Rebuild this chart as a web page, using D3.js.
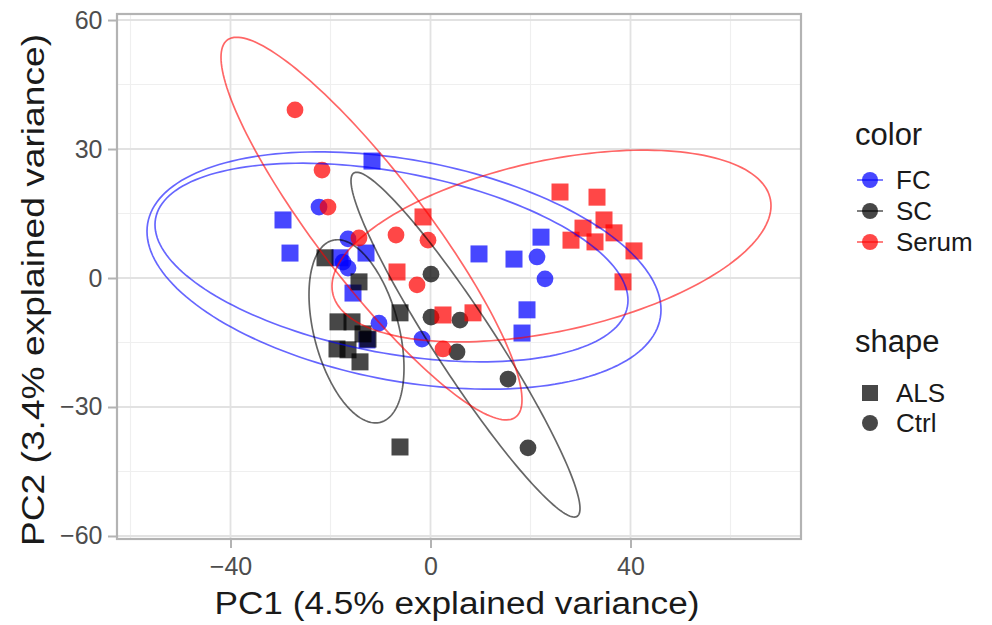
<!DOCTYPE html>
<html>
<head>
<meta charset="utf-8">
<script src="https://cdn.jsdelivr.net/npm/d3@7"></script>
<style>
  body { margin: 0; background: #fff; }
  text { font-family: "Liberation Sans", Arial, sans-serif; }
</style>
</head>
<body>
<div id="chart"></div>
<script>
// colour groups and shape groups
const groups = ["FC", "SC", "Serum"];
const groupColors = ["#0000ff", "#000000", "#ff0000"];
const shapes = ["ALS", "Ctrl"];

// PCA scores, [PC1, PC2]
const fcAls = [[-29.5, 13.5], [-28.1, 5.8], [-11.7, 27.2], [-12.9, 5.8], [-18.1, 4.7], [-15.5, -3.5],
               [-12.7, -14.4], [9.7, 5.6], [16.7, 4.4], [22.1, 9.5], [19.3, -7.4], [18.3, -12.8]];
const fcCtrl = [[-22.3, 16.5], [-16.5, 9.1], [-17.5, 3.7], [-16.5, 2.3], [-10.3, -10.5], [-1.7, -14.2],
                [21.3, 4.9], [22.9, -0.2]];
const scAls = [[-21.1, 4.7], [-14.3, -0.9], [-6.1, -8.1], [-18.5, -10.2], [-15.7, -10.2], [-13.5, -13.0],
               [-12.5, -14.2], [-18.7, -16.5], [-16.5, -16.7], [-14.1, -19.5], [-6.1, -39.3]];
const scCtrl = [[0.1, 0.9], [0.1, -9.1], [5.9, -9.8], [5.3, -17.2], [15.5, -23.5], [19.5, -39.5]];
const serumAls = [[-6.7, 1.4], [-1.5, 14.2], [2.5, -8.6], [8.5, -8.1], [25.9, 20.0], [33.3, 18.8],
                  [34.7, 13.5], [30.5, 11.6], [36.7, 10.5], [28.1, 8.8], [32.9, 8.4], [40.7, 6.3], [38.5, -0.9]];
const serumCtrl = [[-27.1, 39.1], [-21.7, 25.1], [-20.5, 16.5], [-14.3, 9.3], [-6.9, 10.0], [-0.5, 8.8],
                   [-2.7, -1.6], [2.5, -16.5]];

// 95% ellipses: centre, half-extent on each axis, and correlation term
const ellipses = [
  {group: "FC", cx: -5.3, cy: 1.74, rx: 51.4, ry: 27.6, rho: -0.33},
  {group: "FC", cx: -7.8, cy: 3.6, rx: 47.3, ry: 23.1, rho: -0.38},
  {group: "SC", cx: -14.8, cy: -12.4, rx: 9.5, ry: 21.3, rho: -0.4},
  {group: "SC", cx: 7.0, cy: -15.5, rx: 22.9, ry: 40.1, rho: -0.95},
  {group: "Serum", cx: 24.2, cy: 7.44, rx: 43.9, ry: 22.3, rho: 0.42},
  {group: "Serum", cx: -11.8, cy: 11.5, rx: 30.1, ry: 44.5, rho: -0.895}
];

const xTicks = [-40, 0, 40];
const yTicks = [-60, -30, 0, 30, 60];
const xMinor = [-60, -20, 20, 60];
const yMinor = [-45, -15, 15, 45];

const series = [
  {group: "FC", shape: "ALS", pts: fcAls},
  {group: "FC", shape: "Ctrl", pts: fcCtrl},
  {group: "SC", shape: "ALS", pts: scAls},
  {group: "SC", shape: "Ctrl", pts: scCtrl},
  {group: "Serum", shape: "ALS", pts: serumAls},
  {group: "Serum", shape: "Ctrl", pts: serumCtrl}
];

const W = 992, H = 625;
const svg = d3.select("#chart").append("svg").attr("width", W).attr("height", H);

const x = d3.scaleLinear().domain([-62.7, 74.1]).range([117, 801]);
const y = d3.scaleLinear().domain([-60.7, 61.4]).range([539, 14]);
const color = d3.scaleOrdinal().domain(groups).range(groupColors);

// grid
svg.append("g").selectAll("line").data(xMinor).enter().append("line")
  .attr("x1", d => x(d)).attr("x2", d => x(d)).attr("y1", 14).attr("y2", 539)
  .attr("stroke", "#efefef").attr("stroke-width", 1.2);
svg.append("g").selectAll("line").data(yMinor).enter().append("line")
  .attr("y1", d => y(d)).attr("y2", d => y(d)).attr("x1", 117).attr("x2", 801)
  .attr("stroke", "#efefef").attr("stroke-width", 1.2);
svg.append("g").selectAll("line").data(xTicks).enter().append("line")
  .attr("x1", d => x(d)).attr("x2", d => x(d)).attr("y1", 14).attr("y2", 539)
  .attr("stroke", "#e2e2e2").attr("stroke-width", 1.8);
svg.append("g").selectAll("line").data(yTicks).enter().append("line")
  .attr("y1", d => y(d)).attr("y2", d => y(d)).attr("x1", 117).attr("x2", 801)
  .attr("stroke", "#e2e2e2").attr("stroke-width", 1.8);

// points
series.forEach(s => {
  const g = svg.append("g").attr("fill", color(s.group)).attr("fill-opacity", 0.72);
  if (s.shape === "ALS") {
    g.selectAll("rect").data(s.pts).enter().append("rect")
      .attr("x", d => x(d[0]) - 8.5).attr("y", d => y(d[1]) - 8.5)
      .attr("width", 17).attr("height", 17);
  } else {
    g.selectAll("circle").data(s.pts).enter().append("circle")
      .attr("cx", d => x(d[0])).attr("cy", d => y(d[1])).attr("r", 8.4);
  }
});

// ellipses
const line = d3.line().x(d => x(d[0])).y(d => y(d[1]));
ellipses.forEach(e => {
  const s = Math.sqrt(1 - e.rho * e.rho);
  const pts = d3.range(0, 361, 2).map(a => {
    const t = a * Math.PI / 180;
    return [e.cx + e.rx * Math.cos(t), e.cy + e.ry * (e.rho * Math.cos(t) - s * Math.sin(t))];
  });
  svg.append("path").attr("d", line(pts)).attr("fill", "none")
    .attr("stroke", color(e.group)).attr("stroke-opacity", 0.6).attr("stroke-width", 1.7);
});

// panel border
svg.append("rect").attr("x", 117).attr("y", 14).attr("width", 684).attr("height", 525)
  .attr("fill", "none").attr("stroke", "#b3b3b3").attr("stroke-width", 2.2);

// axes
const xAxis = svg.append("g").attr("transform", "translate(0,540)")
  .call(d3.axisBottom(x).tickValues(xTicks).tickSize(8).tickSizeOuter(0));
const yAxis = svg.append("g").attr("transform", "translate(116,0)")
  .call(d3.axisLeft(y).tickValues(yTicks).tickSize(8).tickSizeOuter(0));
[xAxis, yAxis].forEach(a => {
  a.select(".domain").remove();
  a.selectAll(".tick line").attr("stroke", "#b3b3b3").attr("stroke-width", 2);
  a.selectAll(".tick text").attr("fill", "#4d4d4d").attr("font-size", 25)
    .attr("font-family", "'Liberation Sans', Arial, sans-serif");
});
xAxis.selectAll(".tick text").attr("dy", "0.95em");
yAxis.selectAll(".tick text").attr("dx", "-0.1em");

// axis titles
svg.append("text").attr("x", 457).attr("y", 614).attr("text-anchor", "middle")
  .attr("font-size", 31).attr("fill", "#1a1a1a")
  .attr("textLength", 485).attr("lengthAdjust", "spacingAndGlyphs")
  .text("PC1 (4.5% explained variance)");
svg.append("text").attr("transform", "translate(44,290) rotate(-90)").attr("text-anchor", "middle")
  .attr("font-size", 31).attr("fill", "#1a1a1a")
  .attr("textLength", 512).attr("lengthAdjust", "spacingAndGlyphs")
  .text("PC2 (3.4% explained variance)");

// legend
const leg = svg.append("g");
leg.append("text").attr("x", 855).attr("y", 145).attr("font-size", 31).attr("fill", "#1a1a1a").text("color");
groups.forEach((gname, i) => {
  const cy = 180 + i * 31;
  leg.append("line").attr("x1", 857).attr("x2", 883).attr("y1", cy).attr("y2", cy)
    .attr("stroke", color(gname)).attr("stroke-opacity", 0.6).attr("stroke-width", 1.7);
  leg.append("circle").attr("cx", 870).attr("cy", cy).attr("r", 8)
    .attr("fill", color(gname)).attr("fill-opacity", 0.72);
  leg.append("text").attr("x", 896).attr("y", cy + 9).attr("font-size", 26).attr("fill", "#1a1a1a").text(gname);
});
leg.append("text").attr("x", 855).attr("y", 352).attr("font-size", 31).attr("fill", "#1a1a1a").text("shape");
shapes.forEach((sname, i) => {
  const cy = 393 + i * 30;
  if (sname === "ALS") {
    leg.append("rect").attr("x", 862).attr("y", cy - 8).attr("width", 16).attr("height", 16)
      .attr("fill", "#000").attr("fill-opacity", 0.72);
  } else {
    leg.append("circle").attr("cx", 870).attr("cy", cy).attr("r", 8)
      .attr("fill", "#000").attr("fill-opacity", 0.72);
  }
  leg.append("text").attr("x", 896).attr("y", cy + 9).attr("font-size", 26).attr("fill", "#1a1a1a").text(sname);
});
</script>
</body>
</html>
